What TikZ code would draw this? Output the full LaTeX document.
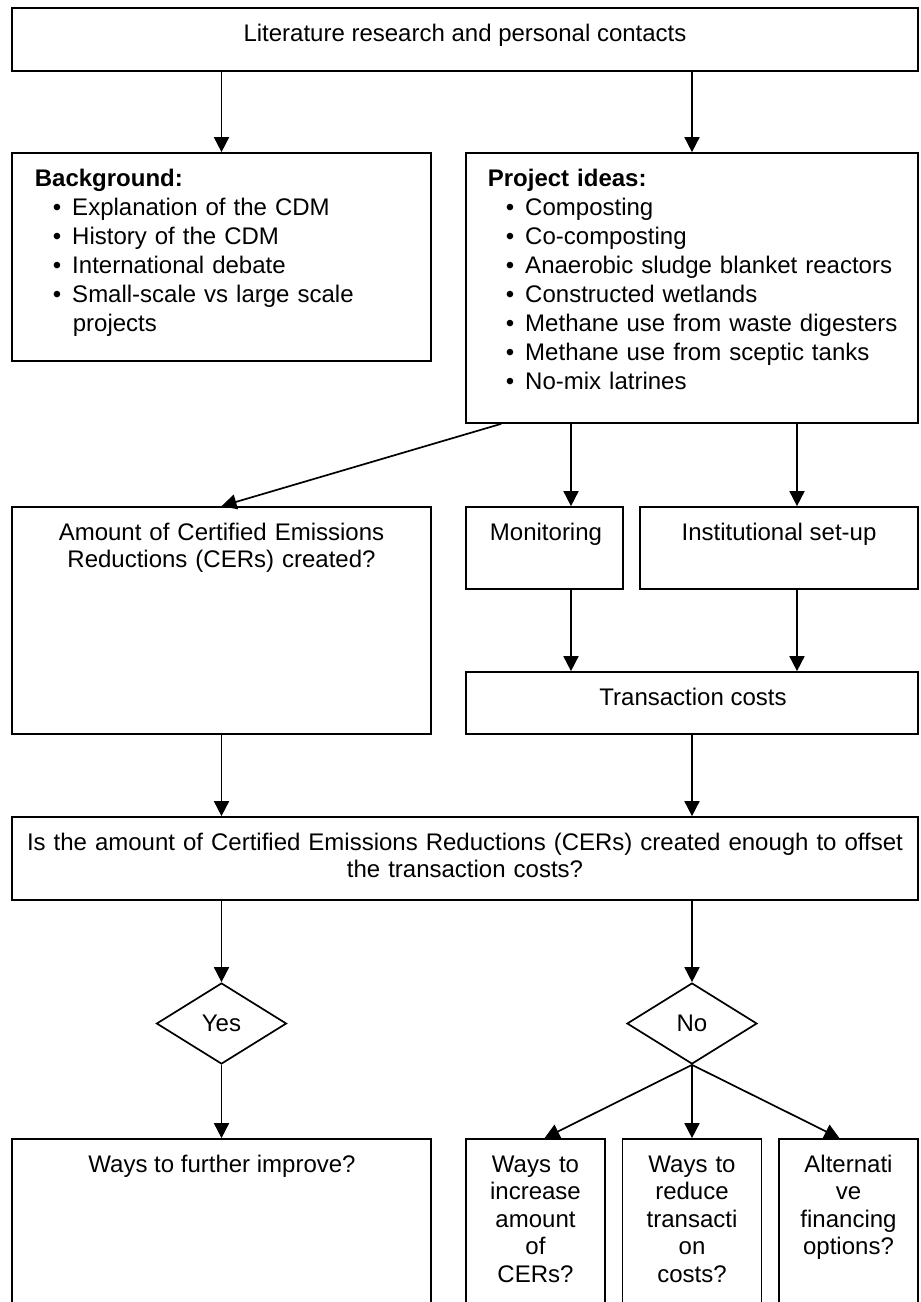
\documentclass[tikz,border=0pt]{standalone}
\usepackage{fontspec}
\setmainfont{Liberation Sans}
\usetikzlibrary{arrows.meta,shapes.geometric}
\begin{document}
\begin{tikzpicture}[x=1pt,y=-1pt,line width=1.7pt,>={Triangle[length=15pt,width=15pt]}]
	\tikzstyle{every node}+=[inner sep=0pt,font=\fontsize{24}{27.6}\selectfont]
	\tikzstyle{box}=[draw,rectangle]
	\tikzstyle{choice}=[draw,diamond,minimum width=130pt,minimum height=81pt]
	\tikzstyle{list}=[anchor=base west,text width=420pt,align=left,font=\fontsize{24}{29}\selectfont]
	\tikzstyle{txt}=[anchor=base,align=center]
	\useasboundingbox (0,0) rectangle (921,1302);
	\clip (0,0) rectangle (921,1302);
	\node [box,minimum width=906pt,minimum height=63pt] (lit) at (465,39.5) {};
	\node [txt] (littxt) at (465,41) {Literature research and personal contacts};
	\node [box,minimum width=419pt,minimum height=208pt] (bg) at (221.5,257) {};
	\node [list] (bgtxt) at (34,186) {\textbf{Background:}\\
		\hspace*{18pt}\textbullet\hspace{11pt}Explanation of the CDM\\
		\hspace*{18pt}\textbullet\hspace{11pt}History of the CDM\\
		\hspace*{18pt}\textbullet\hspace{11pt}International debate\\
		\hspace*{18pt}\textbullet\hspace{11pt}Small-scale vs large scale\\
		\hspace*{38pt}projects};
	\node [box,minimum width=452pt,minimum height=270pt] (proj) at (692,288) {};
	\node [list] (projtxt) at (487,186) {\textbf{Project ideas:}\\
		\hspace*{18pt}\textbullet\hspace{11pt}Composting\\
		\hspace*{18pt}\textbullet\hspace{11pt}Co-composting\\
		\hspace*{18pt}\textbullet\hspace{11pt}Anaerobic sludge blanket reactors\\
		\hspace*{18pt}\textbullet\hspace{11pt}Constructed wetlands\\
		\hspace*{18pt}\textbullet\hspace{11pt}Methane use from waste digesters\\
		\hspace*{18pt}\textbullet\hspace{11pt}Methane use from sceptic tanks\\
		\hspace*{18pt}\textbullet\hspace{11pt}No-mix latrines};
	\node [box,minimum width=419pt,minimum height=227pt] (amt) at (221.5,620.5) {};
	\node [txt,text width=400pt] (amttxt) at (221.5,540) {Amount of Certified Emissions\\Reductions (CERs) created?};
	\node [box,minimum width=157pt,minimum height=82pt] (mon) at (544.5,548) {};
	\node [txt] (montxt) at (546,540) {Monitoring};
	\node [box,minimum width=278pt,minimum height=82pt] (inst) at (779,548) {};
	\node [txt] (insttxt) at (779,540) {Institutional set-up};
	\node [box,minimum width=452pt,minimum height=62pt] (trans) at (692,703) {};
	\node [txt] (transtxt) at (693,705) {Transaction costs};
	\node [box,minimum width=906pt,minimum height=83pt] (quest) at (465,858.5) {};
	\node [txt,text width=890pt] (questtxt) at (465,850) {Is the amount of Certified Emissions Reductions (CERs) created enough to offset\\the transaction costs?};
	\node [choice] (yes) at (221.5,1023.5) {Yes};
	\node [choice] (no) at (692,1023.5) {No};
	\node [box,minimum width=419pt,minimum height=191pt] (imp) at (221.5,1234.5) {};
	\node [txt] (imptxt) at (222,1172) {Ways to further improve?};
	\node [box,minimum width=139pt,minimum height=191pt] (inc) at (535.5,1234.5) {};
	\node [txt,text width=135pt] (inctxt) at (535.5,1172) {Ways to\\increase\\amount\\of\\CERs?};
	\node [box,minimum width=139pt,minimum height=191pt] (red) at (692,1234.5) {};
	\node [txt,text width=135pt] (redtxt) at (692,1172) {Ways to\\reduce\\transacti\\on\\costs?};
	\node [box,minimum width=139pt,minimum height=191pt] (alt) at (848.5,1234.5) {};
	\node [txt,text width=135pt] (alttxt) at (848.5,1172) {Alternati\\ve\\financing\\options?};
	\coordinate (mx) at (571,0);
	\coordinate (ix) at (797,0);
	\draw [->] (lit.south -| bg.north) -- (bg.north);
	\draw [->] (lit.south -| proj.north) -- (proj.north);
	\draw [->] ([xshift=36pt]proj.south west) -- (amt.north);
	\draw [->] (proj.south -| mx) -- (mon.north -| mx);
	\draw [->] (proj.south -| ix) -- (inst.north -| ix);
	\draw [->] (mon.south -| mx) -- (trans.north -| mx);
	\draw [->] (inst.south -| ix) -- (trans.north -| ix);
	\draw [->] (amt.south) -- (quest.north -| amt.south);
	\draw [->] (trans.south) -- (quest.north -| trans.south);
	\draw [->] (quest.south -| yes.north) -- (yes.north);
	\draw [->] (quest.south -| no.north) -- (no.north);
	\draw [->] (yes.south) -- (imp.north);
	\draw [->] (no.south) -- ([xshift=9pt]inc.north);
	\draw [->] (no.south) -- (red.north);
	\draw [->] (no.south) -- ([xshift=-9pt]alt.north);
\end{tikzpicture}
\end{document}
